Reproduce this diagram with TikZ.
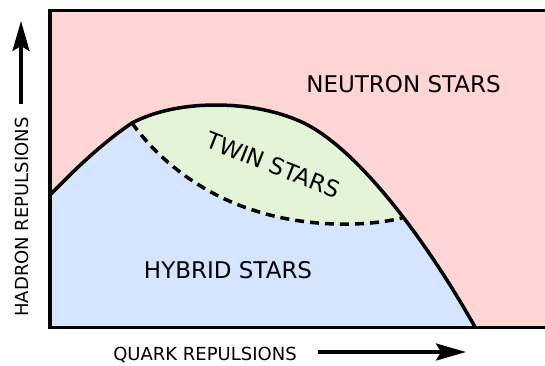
\documentclass[tikz,border=0pt]{standalone}
\usepackage{fontspec}
\setmainfont{DejaVu Sans}
\usetikzlibrary{arrows.meta}
\definecolor{neutronpink}{HTML}{FFD5D5}
\definecolor{hybridblue}{HTML}{D5E5FF}
\definecolor{twingreen}{HTML}{E3F4D7}
\tikzset{
  bigtext/.style={font=\fontsize{23}{27}\selectfont, inner sep=0pt},
  smalltext/.style={font=\fontsize{18}{22}\selectfont, inner sep=0pt},
  axisarrow/.style={line width=3.5pt, -{Stealth[length=30pt,width=17pt,inset=5pt]}},
  boundary/.style={line width=3.5pt, line join=round},
  twinedge/.style={line width=3.5pt, dash pattern=on 9pt off 6pt},
}
\begin{document}
\begin{tikzpicture}[x=1pt,y=-1pt]
\useasboundingbox (0,0) rectangle (545,365);
\def\solidcurve{(50,195) .. controls (77,167) and (105,141) .. (132,123)
  .. controls (177,99) and (250,100) .. (297,120)
  .. controls (357,144) and (430,247) .. (475,327)}
\def\dashcurve{(132,123) .. controls (162,165) and (208,196) .. (253,210)
  .. controls (300,226) and (360,228) .. (402,218)}
% background
\fill[neutronpink] (50,10.5) rectangle (560,327.5);
% hybrid region
\fill[hybridblue] \solidcurve -- (50,327.5) -- cycle;
% twin region
\begin{scope}
  \clip \solidcurve -- (50,327.5) -- cycle;
  \fill[twingreen] \dashcurve -- (430,218) -- (430,0) -- (132,0) -- (120,123) -- cycle;
\end{scope}
\draw[twinedge] \dashcurve;
\draw[boundary] \solidcurve;
\draw[line width=3.5pt] (560,10.5) -- (50,10.5) -- (50,327.5) -- (560,327.5);
% labels
\node[bigtext, anchor=base] (neutron) at (403.5,92) {NEUTRON STARS};
\node[bigtext, rotate=-21.5] (twin) at (273,165) {TWIN STARS};
\node[bigtext, anchor=base] (hybrid) at (228,278) {HYBRID STARS};
\node[smalltext, anchor=base] (quark) at (205,360) {QUARK REPULSIONS};
\node[smalltext, anchor=base, rotate=90] (hadron) at (28,217) {HADRON REPULSIONS};
% axis arrows
\coordinate (qstart) at (318,352);
\coordinate (qend) at (466,352);
\coordinate (hstart) at (21,104);
\coordinate (hend) at (21,21);
\draw[axisarrow] (qstart) -- (qend);
\draw[axisarrow] (hstart) -- (hend);
\end{tikzpicture}
\end{document}
